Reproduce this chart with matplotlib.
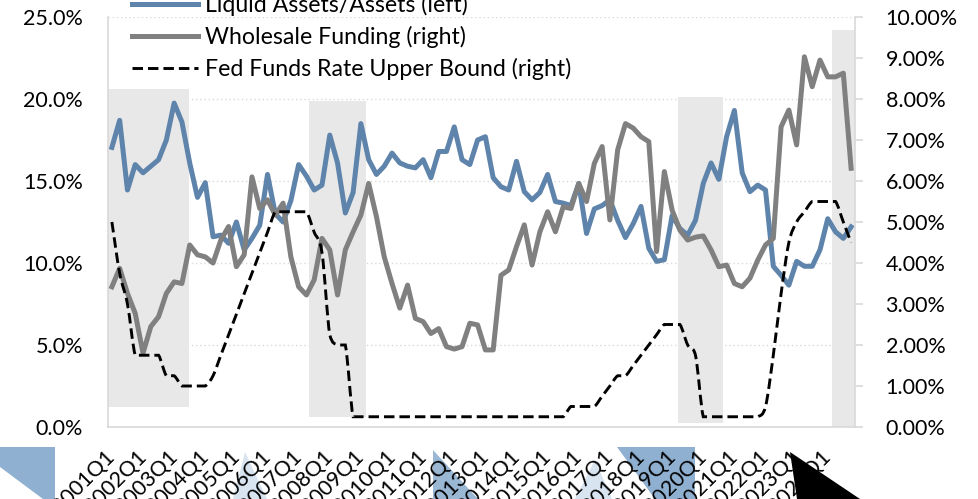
import numpy as np
import matplotlib.pyplot as plt
from matplotlib.path import Path
from matplotlib.patches import PathPatch, Polygon
from matplotlib.lines import Line2D
from matplotlib.ticker import PercentFormatter, MultipleLocator

plt.rcParams['font.family'] = ['Lato', 'DejaVu Sans']

## quarterly categories 2001Q1 .. 2024Q4
quarters = [f"{y}Q{q}" for y in range(2001, 2025) for q in range(1, 5)]

## liquid assets / assets, % (left axis)
liquid = [17.05, 18.7, 14.45, 16.0, 15.5, 15.9, 16.3, 17.5, 19.75, 18.6, 16.1, 14.0, 14.9,
          11.6, 11.7, 11.2, 12.5, 10.8, 11.5, 12.3, 15.4, 13.0, 12.5, 13.8, 16.0,
          15.3, 14.45, 14.75, 17.8, 16.1, 13.05, 14.3, 18.5, 16.3, 15.4, 15.9, 16.7,
          16.1, 15.9, 15.8, 16.3, 15.2, 16.8, 16.8, 18.3, 16.3, 16.0, 17.5, 17.7, 15.2,
          14.65, 14.45, 16.2, 14.35, 13.85, 14.3, 15.4, 13.75, 13.65, 13.5, 14.85, 11.8, 13.3, 13.5, 13.85,
          12.6, 11.55, 12.4, 13.45, 10.9, 10.1, 10.2, 12.9, 12.1, 11.7, 12.6, 14.85, 16.1, 15.1, 17.7,
          19.3, 15.5, 14.35, 14.75, 14.45, 9.8, 9.25, 8.65, 10.1, 9.8, 9.8, 10.8, 12.7, 11.9, 11.5, 12.2]

## wholesale funding, % (right axis)
wholesale = [3.42, 3.87, 3.26, 2.77, 1.8, 2.45, 2.69, 3.26, 3.54, 3.5, 4.44, 4.2, 4.15,
             4.0, 4.56, 4.89, 3.91, 4.2, 6.1, 5.33, 5.54, 5.17, 5.46, 4.15, 3.42,
             3.22, 3.59, 4.6, 4.32, 3.22, 4.32, 4.76, 5.17, 5.94, 5.13, 4.15, 3.5,
             2.9, 3.46, 2.65, 2.57, 2.28, 2.4, 1.96, 1.9, 1.96, 2.53, 2.49, 1.88, 1.88,
             3.7, 3.83, 4.4, 4.93, 3.95, 4.76, 5.25, 4.76, 5.37, 5.33, 5.94, 5.5, 6.43, 6.84, 5.05,
             6.76, 7.4, 7.29, 7.08, 6.96, 4.28, 6.23, 5.29, 4.8, 4.56, 4.63, 4.66, 4.32, 3.91, 3.95,
             3.5, 3.42, 3.63, 4.07, 4.44, 4.6, 7.32, 7.73, 6.88, 9.03, 8.3, 8.95, 8.54, 8.54, 8.63, 6.31]

## fed funds target upper bound, quarter end, % (right axis)
fed_upper = [5.00, 3.75, 3.00, 1.75,  1.75, 1.75, 1.75, 1.25,  1.25, 1.00, 1.00, 1.00,
             1.00, 1.25, 1.75, 2.25,  2.75, 3.25, 3.75, 4.25,  4.75, 5.25, 5.25, 5.25,
             5.25, 5.25, 4.75, 4.25,  2.25, 2.00, 2.00, 0.25,
             0.25, 0.25, 0.25, 0.25,  0.25, 0.25, 0.25, 0.25,  0.25, 0.25, 0.25, 0.25,
             0.25, 0.25, 0.25, 0.25,  0.25, 0.25, 0.25, 0.25,  0.25, 0.25, 0.25, 0.25,
             0.25, 0.25, 0.25, 0.50,  0.50, 0.50, 0.50, 0.75,  1.00, 1.25, 1.25, 1.50,
             1.75, 2.00, 2.25, 2.50,  2.50, 2.50, 2.00, 1.75,  0.25, 0.25, 0.25, 0.25,
             0.25, 0.25, 0.25, 0.25,  0.50, 1.75, 3.25, 4.50,  5.00, 5.25, 5.50, 5.50,
             5.50, 5.50, 5.00, 4.50]

## grey shaded periods (quarter index span, left-axis % span)
shade_start = [-0.5, 25.3, 72.7, 92.6]
shade_end = [9.85, 32.6, 78.6, 95.5]
shade_bottom = [1.2, 0.6, 0.25, 0.0]
shade_top = [20.6, 19.9, 20.1, 24.2]

blue = '#5f84ab'
grey = '#808080'
light = '#d9d9d9'
dash = (0, (3.6, 1.7))


def smooth_path(xs, ys):
    # excel style smoothed line, bezier through every point, no overshoot
    pts = np.column_stack([xs, ys]).astype(float)
    n = len(pts)
    verts = [pts[0]]
    codes = [Path.MOVETO]
    for i in range(n - 1):
        p0, p1 = pts[max(i - 1, 0)], pts[i]
        p2, p3 = pts[i + 1], pts[min(i + 2, n - 1)]
        c1 = p1 + (p2 - p0) / 6.0
        c2 = p2 - (p3 - p1) / 6.0
        lo, hi = min(p1[1], p2[1]), max(p1[1], p2[1])
        c1[1] = np.clip(c1[1], lo, hi)
        c2[1] = np.clip(c2[1], lo, hi)
        verts += [c1, c2, p2]
        codes += [Path.CURVE4] * 3
    return Path(verts, codes)


x = np.arange(len(quarters))
W, H = 979, 499

fig = plt.figure(figsize=(W / 100, H / 100), dpi=100)
ax = fig.add_axes([108 / W, 1 - 427 / H, (855 - 108) / W, (427 - 17) / H])

ax.bar(shade_start, np.subtract(shade_top, shade_bottom),
       width=np.subtract(shade_end, shade_start), bottom=shade_bottom,
       align='edge', color='#e8e8e8', zorder=1)
ax.plot(x, liquid, color=blue, lw=3.6, zorder=3, solid_joinstyle='round')

ax.set_xlim(-0.5, len(quarters) - 0.5)
ax.set_ylim(0, 25)
ax.yaxis.set_major_locator(MultipleLocator(5))
ax.yaxis.set_major_formatter(PercentFormatter(100, decimals=1))
ax.grid(axis='y', color=light, ls=(0, (1, 2)), lw=1.0, zorder=0)
ax.set_axisbelow(True)

ax.set_xticks(x[::4])
ax.set_xticklabels(quarters[::4], rotation=45, ha='right', va='center',
                   rotation_mode='anchor')
ax.tick_params(axis='x', length=0, pad=19, labelsize=15.5)
ax.tick_params(axis='y', length=0, pad=18, labelsize=15.5)
for s in ['top', 'right']:
    ax.spines[s].set_visible(False)
for s in ['left', 'bottom']:
    ax.spines[s].set_color(light)
    ax.spines[s].set_linewidth(1.2)

ax2 = ax.twinx()
ax2.set_ylim(0, 10)
ax2.plot(x, wholesale, color=grey, lw=3.6, zorder=3, solid_joinstyle='round')
ax2.add_patch(PathPatch(smooth_path(x, fed_upper), fill=False, edgecolor='black',
                        lw=2.1, ls=dash, zorder=4))
ax2.yaxis.set_major_locator(MultipleLocator(1))
ax2.yaxis.set_major_formatter(PercentFormatter(100, decimals=2))
ax2.tick_params(axis='y', length=6, width=1.2, color=light, pad=16, labelsize=15.5)
for s in ['top', 'left', 'bottom']:
    ax2.spines[s].set_visible(False)
ax2.spines['right'].set_color(light)
ax2.spines['right'].set_linewidth(1.2)

handles = [Line2D([], [], color=blue, lw=3.6),
           Line2D([], [], color=grey, lw=3.6),
           Line2D([], [], color='black', lw=2.1, ls=dash)]
labels = ['Liquid Assets/Assets (left)', 'Wholesale Funding (right)',
          'Fed Funds Rate Upper Bound (right)']
fig.legend(handles, labels, loc='upper left', bbox_to_anchor=(132 / W, 1 + 6 / H),
           frameon=False, fontsize=16.7, handlelength=2.85, handletextpad=0.3,
           labelspacing=0.42, borderpad=0, borderaxespad=0)


## slide decorations peeking in under the axis labels
def px(pts):
    return [(a / W, 1 - b / H) for a, b in pts]


for pts, col, a, z in [
        ([(0, 447), (55, 447), (55, 499), (43, 499), (0, 467)], '#8fb0d0', 1.0, -1),
        ([(245, 452), (233, 499), (267, 499)], '#bfd2e6', 0.6, -1),
        ([(433, 450), (433, 499), (478, 499)], '#8fb0d0', 0.9, -1),
        ([(595, 460), (575, 499), (612, 499)], '#bfd2e6', 0.6, -1),
        ([(617, 447), (695, 447), (695, 499), (655, 499)], '#8fb0d0', 1.0, -1),
        ([(790, 452), (797, 499), (860, 499)], 'black', 1.0, 10)]:
    fig.add_artist(Polygon(px(pts), closed=True, transform=fig.transFigure,
                           facecolor=col, edgecolor='none', alpha=a, zorder=z))

fig.savefig('out.png', dpi=100)
